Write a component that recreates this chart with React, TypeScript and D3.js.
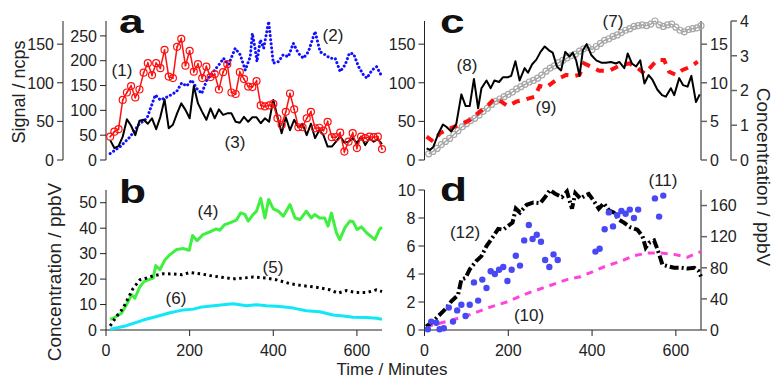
import React from "react";
import * as d3 from "d3";

// ---------- Panel a ----------
const T_A = [10,20,30,40,50,60,70,80,90,100,110,120,130,140,150,160,170,180,190,200,210,220,230,240,250,260,270,280,290,300,310,320,330,340,350,360,370,380,390,400,410,420,430,440,450,460,470,480,490,500,510,520,530,540,550,560,570,580,590,600,610,620,630,640,650,660];
const S1 = [47,57,62,121,136,149,126,142,176,195,171,195,185,222,168,165,228,244,190,220,178,193,165,188,167,173,142,177,193,136,133,177,163,148,147,159,110,108,110,113,84,71,97,134,102,66,66,84,97,64,65,59,77,46,46,55,17,37,54,24,47,44,47,46,47,22];
const S3 = [40,24,28,47,82,69,50,79,81,73,84,62,87,122,64,71,94,114,101,84,149,114,97,81,104,84,102,91,94,94,77,75,87,77,86,86,74,84,77,121,87,54,86,60,81,66,73,50,73,44,60,50,27,27,37,48,35,37,44,34,47,30,44,37,42,32];
const T2 = [10,34,58,78,98,118,130,149,169,181,193,205,217,229,241,257,273,281,293,309,321,333,345,350,357,361,369,377,389,400,412,424,436,448,460,472,484,500,512,524,536,548,560,572,582,592,604,616,624,636,647,660];
const S2 = [13,27,47,71,84,131,121,128,138,155,149,161,144,134,161,178,195,205,192,225,212,181,208,255,222,198,242,225,279,195,198,212,208,235,215,205,218,259,218,212,205,205,178,192,215,214,188,171,165,181,188,168];

// ---------- Panel b ----------
const T4 = [10,21,37,49,61,69,81,91,101,113,119,129,141,153,169,185,199,207,218,232,252,264,272,284,296,312,322,332,340,352,360,370,380,389,400,412,424,440,452,464,479,491,499,511,523,531,539,551,559,571,583,591,600,611,623,643,654,660];
const S4 = [4.2,5,6.6,9.9,13.8,12.5,17,19,19.7,20.4,25.3,23.7,27.6,29.6,31.6,32,31.3,37.1,35.1,37.5,38.8,39.7,39.2,41.4,42.1,43.2,46,45.4,42.8,45.4,46.7,51.7,44,51.3,47.6,46.7,44.7,49.3,44,43.4,46.7,44,45.4,44,44,40.8,46,38.2,35.5,40.1,42.8,42.5,39.5,40.5,38.2,35.5,39.5,40.4];
const T5 = [10,25,41,53,65,81,97,113,137,161,181,201,225,248,272,304,328,352,384,408,440,471,503,535,555,575,599,623,647,660];
const S5 = [1.6,5.3,8.6,12.5,16.4,19.7,20.4,21.3,22.1,22,21.7,22.6,22.1,21.4,20.8,20.1,20.4,20.8,20.4,19.7,18.2,17.4,16.8,15.8,14.5,15.5,14.7,14.7,15.8,15.1];
const T6 = [10,49,89,121,153,185,209,225,257,304,336,360,384,416,448,479,511,543,567,591,623,647,660];
const S6 = [0.3,1.7,3.9,5.3,6.8,7.9,8.2,8.9,9.5,10.3,9.5,9.9,9.5,9.2,8.6,7.6,7.2,5.9,5.5,5,4.9,4.6,4.2];

// ---------- Panel c ----------
const T8 = [5,13,21,33,44,52,64,76,88,98,108,118,128,136,148,158,167,178,187,198,207,217,227,239,247,257,267,277,287,297,306,316,326,336,346,354,362,370,378,387,398,410,422,433,445,457,465,477,485,495,505,515,525,535,544,556,567,576,588,596,608,617,628,637,648,657];
const S8 = [15,13,17,34,46,43,37,47,85,70,70,105,67,93,103,93,103,101,107,107,109,128,103,119,113,124,130,140,147,142,139,121,116,140,134,139,129,109,142,150,136,129,126,126,127,125,127,119,138,125,121,129,99,110,104,91,84,82,93,84,106,97,95,109,75,85];
const T7 = T_A;
const S7 = [0.8,1.1,1.5,2.0,2.4,2.8,3.3,3.8,4.3,4.7,5.1,5.4,5.8,6.3,6.7,7.2,7.6,7.9,8.2,8.5,8.8,9.2,9.5,9.8,10.1,10.3,10.6,11.0,11.5,11.9,12.2,12.6,12.9,13.2,13.5,13.7,14.1,14.4,14.6,14.3,14.7,15.1,15.5,15.7,16.0,16.2,16.5,16.8,17.0,17.3,17.4,17.5,17.4,17.6,18.0,17.5,17.3,17.5,17.6,17.2,16.8,16.6,16.9,17.0,17.1,17.4];
const T9 = [5,21,37,60,84,108,132,148,167,183,199,219,243,263,275,291,314,338,358,370,381,397,417,441,465,489,509,525,541,556,572,584,600,616,636,652];
const S9 = [0.67,0.53,0.77,0.91,1.01,1.15,1.39,1.53,1.77,1.68,1.55,1.68,1.75,1.82,2.13,2.09,2.30,2.45,2.42,2.45,2.78,2.69,2.57,2.57,2.71,2.78,2.64,2.49,2.69,2.88,2.88,2.54,2.45,2.59,2.69,2.83];

// ---------- Panel d ----------
const T12 = [4,20,40,52,64,80,88,98,108,124,136,148,160,176,188,200,210,218,228,244,260,276,288,300,312,328,340,352,360,372,384,392,404,416,428,440,452,464,476,492,508,520,528,536,548,556,568,580,596,612,628,644,654,660];
const S12 = [4.3,10.8,21.6,28,37,45,65,67,78,89,95,108,117,130,129,134,138,156,151,161,164,163,171,180,175,171,178,156,176,169,173,175,166,156,163,154,151,142,138,132,129,121,106,112,115,104,84,82,80,80,79,80,76,69];
const T10 = [4,52,100,148,196,244,292,340,372,404,436,468,500,532,564,596,628,660];
const S10 = [0.24,0.6,1.0,1.55,2.0,2.6,3.1,3.6,3.8,4.2,4.6,4.9,5.3,5.5,5.5,5.4,5.2,5.6];
const T11 = [8,16,28,36,46,58,68,78,88,98,108,118,128,138,148,158,168,178,188,198,208,218,228,238,249,258,268,278,288,298,308,318,408,418,430,440,450,460,470,480,490,500,510,550,560,570];
const S11 = [0.05,0.6,0.52,0.05,0.12,1.6,0.6,1.4,1.8,1.0,1.8,3.4,2.1,3.6,3.0,4.2,4.0,4.3,4.5,3.5,4.3,5.3,4.6,6.4,7.5,6.5,6.8,6.3,5.0,4.5,5.4,5.0,5.6,5.8,7.2,8.4,7.4,8.2,8.5,8.3,8.6,8.0,8.6,9.4,8.1,9.6];

// ---------- Tick values ----------
const TICKS_A_OUTER = [0,50,100,150];
const TICKS_A_INNER = [0,50,100,150,200,250];
const TICKS_B = [0,10,20,30,40,50];
const TICKS_TIME = [0,200,400,600];
const TICKS_C_LEFT = [0,50,100,150];
const TICKS_C_R1 = [0,5,10,15];
const TICKS_C_R2 = [0,1,2,3,4];
const TICKS_D_LEFT = [0,2,4,6,8,10];
const TICKS_D_RIGHT = [0,40,80,120,160];

const FONT = "'Liberation Sans', Arial, Helvetica, sans-serif";
const TICK_FS = 16;

type Scale = d3.ScaleLinear<number, number>;

function VAxis({ x, scale, ticks, side, color = "#222", sw = 1 }: { x: number; scale: Scale; ticks: number[]; side: "left" | "right"; color?: string; sw?: number }) {
  const r = scale.range();
  const dir = side === "left" ? -1 : 1;
  return (
    <g>
      <line x1={x} x2={x} y1={r[0]} y2={r[1]} stroke={color} strokeWidth={sw} />
      {ticks.map((t) => (
        <g key={t}>
          <line x1={x} x2={x + dir * 6} y1={scale(t)} y2={scale(t)} stroke={color} strokeWidth={sw} />
          <text x={x + dir * 9} y={scale(t)} dy="0.36em" textAnchor={side === "left" ? "end" : "start"} fontSize={TICK_FS} fontFamily={FONT} fill="#222">{t}</text>
        </g>
      ))}
    </g>
  );
}

function HAxis({ y, scale, ticks }: { y: number; scale: Scale; ticks: number[] }) {
  const r = scale.range();
  return (
    <g>
      <line x1={r[0]} x2={r[1]} y1={y} y2={y} stroke="#222" strokeWidth={1} />
      {ticks.map((t) => (
        <g key={t}>
          <line x1={scale(t)} x2={scale(t)} y1={y} y2={y + 6} stroke="#222" strokeWidth={1} />
          <text x={scale(t)} y={y + 26} textAnchor="middle" fontSize={TICK_FS} fontFamily={FONT} fill="#222">{t}</text>
        </g>
      ))}
    </g>
  );
}

function path(xs: number[], ys: number[], sx: Scale, sy: Scale) {
  const pts = xs.map((t, i) => [t, ys[i]] as [number, number]);
  return d3.line<[number, number]>().x((d) => sx(d[0])).y((d) => sy(d[1]))(pts) || "";
}

function Label({ x, y, children, size = 17 }: { x: number; y: number; children: React.ReactNode; size?: number }) {
  return <text x={x} y={y} dy="0.36em" textAnchor="middle" fontSize={size} fontFamily={FONT} fill="#222">{children}</text>;
}

function Letter({ x, y, children }: { x: number; y: number; children: React.ReactNode }) {
  return <text x={x} y={y} fontSize={34} fontWeight="bold" fontFamily={FONT} fill="#111" transform={`translate(${x},${y}) scale(1.3,1) translate(${-x},${-y})`}>{children}</text>;
}

export default function App() {
  const xA = d3.scaleLinear().domain([0, 660]).range([106, 382]);
  const xC = d3.scaleLinear().domain([0, 660]).range([424.5, 701]);
  const yAo = d3.scaleLinear().domain([0, 180]).range([160, 21]);
  const yAi = d3.scaleLinear().domain([0, 280]).range([160, 21]);
  const yB = d3.scaleLinear().domain([0, 55]).range([330, 190]);
  const yCl = d3.scaleLinear().domain([0, 180]).range([160, 21]);
  const yCr1 = d3.scaleLinear().domain([0, 18]).range([160, 21]);
  const yCr2 = d3.scaleLinear().domain([0, 4]).range([160, 21]);
  const yDl = d3.scaleLinear().domain([0, 10]).range([330, 190]);
  const yDr = d3.scaleLinear().domain([0, 180]).range([330, 190]);

  return (
    <svg width={773} height={379} style={{ position: "absolute", left: 0, top: 0, background: "#fff" }} xmlns="http://www.w3.org/2000/svg">
      <rect x={0} y={0} width={773} height={379} fill="#fff" />

      {/* ---------- Panel a ---------- */}
      <VAxis x={63} scale={yAo} ticks={TICKS_A_OUTER} side="left" />
      <VAxis x={106} scale={yAi} ticks={TICKS_A_INNER} side="left" />
      <path d={path(T2, S2, xA, yAi)} fill="none" stroke="#1010ff" strokeWidth={3} strokeDasharray="0.1 4" strokeLinecap="round" />
      <path d={path(T_A, S3, xA, yAi)} fill="none" stroke="#000" strokeWidth={2} strokeLinejoin="round" />
      <path d={path(T_A, S1, xA, yAi)} fill="none" stroke="#ff1010" strokeWidth={1.5} />
      {T_A.map((t, i) => (
        <g key={"r" + i}>
          <circle cx={xA(t)} cy={yAi(S1[i])} r={3.5} fill="none" stroke="#ff1010" strokeWidth={1.2} />
          <circle cx={xA(t)} cy={yAi(S1[i])} r={0.9} fill="#ff1010" />
        </g>
      ))}
      <Label x={122} y={70}>(1)</Label>
      <Label x={333} y={35}>(2)</Label>
      <Label x={235} y={142}>(3)</Label>
      <Letter x={119} y={33}>a</Letter>
      <text transform="translate(25,92) rotate(-90)" textAnchor="middle" fontSize={18} fontFamily={FONT} fill="#222">Signal / ncps</text>

      {/* ---------- Panel b ---------- */}
      <VAxis x={106} scale={yB} ticks={TICKS_B} side="left" />
      <HAxis y={330} scale={xA} ticks={TICKS_TIME} />
      <path d={path(T4, S4, xA, yB)} fill="none" stroke="#40f040" strokeWidth={3} strokeLinejoin="round" />
      <path d={path(T6, S6, xA, yB)} fill="none" stroke="#10e8f8" strokeWidth={3} strokeLinejoin="round" />
      <path d={path(T5, S5, xA, yB)} fill="none" stroke="#000" strokeWidth={3} strokeDasharray="2.5 3.5" />
      <Label x={208} y={211}>(4)</Label>
      <Label x={273} y={267}>(5)</Label>
      <Label x={176} y={298}>(6)</Label>
      <Letter x={119} y={203}>b</Letter>
      <text transform="translate(61,272) rotate(-90)" textAnchor="middle" fontSize={19} fontFamily={FONT} fill="#222">Concentration / ppbV</text>

      {/* ---------- Panel c ---------- */}
      <VAxis x={424.5} scale={yCl} ticks={TICKS_C_LEFT} side="left" />
      <VAxis x={701} scale={yCr1} ticks={TICKS_C_R1} side="right" color="#666" sw={1.5} />
      <VAxis x={731} scale={yCr2} ticks={TICKS_C_R2} side="right" color="#666" sw={1.5} />
      <path d={path(T7, S7, xC, yCr1)} fill="none" stroke="#a0a0a0" strokeWidth={1.3} />
      {T7.map((t, i) => (
        <circle key={"g" + i} cx={xC(t)} cy={yCr1(S7[i])} r={3} fill="none" stroke="#a8a8a8" strokeWidth={1.2} />
      ))}
      <path d={path(T9, S9, xC, yCr2)} fill="none" stroke="#ff1010" strokeWidth={4} strokeDasharray="8 7" />
      <path d={path(T8, S8, xC, yCl)} fill="none" stroke="#000" strokeWidth={2} strokeLinejoin="round" />
      <Label x={613} y={21}>(7)</Label>
      <Label x={467} y={65}>(8)</Label>
      <Label x={546} y={107}>(9)</Label>
      <Letter x={440} y={33}>c</Letter>
      <text transform="translate(757,177) rotate(90)" textAnchor="middle" fontSize={19} fontFamily={FONT} fill="#222">Concentration / ppbV</text>

      {/* ---------- Panel d ---------- */}
      <VAxis x={424.5} scale={yDl} ticks={TICKS_D_LEFT} side="left" />
      <VAxis x={701} scale={yDr} ticks={TICKS_D_RIGHT} side="right" color="#666" sw={1.5} />
      <HAxis y={330} scale={xC} ticks={TICKS_TIME} />
      <path d={path(T10, S10, xC, yDl)} fill="none" stroke="#ff44dd" strokeWidth={3} strokeDasharray="7 6" />
      <path d={path(T12, S12, xC, yDr)} fill="none" stroke="#000" strokeWidth={4} strokeDasharray="9 3 2 3" />
      {T11.map((t, i) => (
        <circle key={"b" + i} cx={xC(t)} cy={yDl(S11[i])} r={3.2} fill="#4848f4" />
      ))}
      <Label x={663} y={180}>(11)</Label>
      <Label x={465} y={232}>(12)</Label>
      <Label x={529} y={315}>(10)</Label>
      <Letter x={440} y={201}>d</Letter>

      <text x={392} y={375} textAnchor="middle" fontSize={17} fontFamily={FONT} fill="#222">Time / Minutes</text>
    </svg>
  );
}
